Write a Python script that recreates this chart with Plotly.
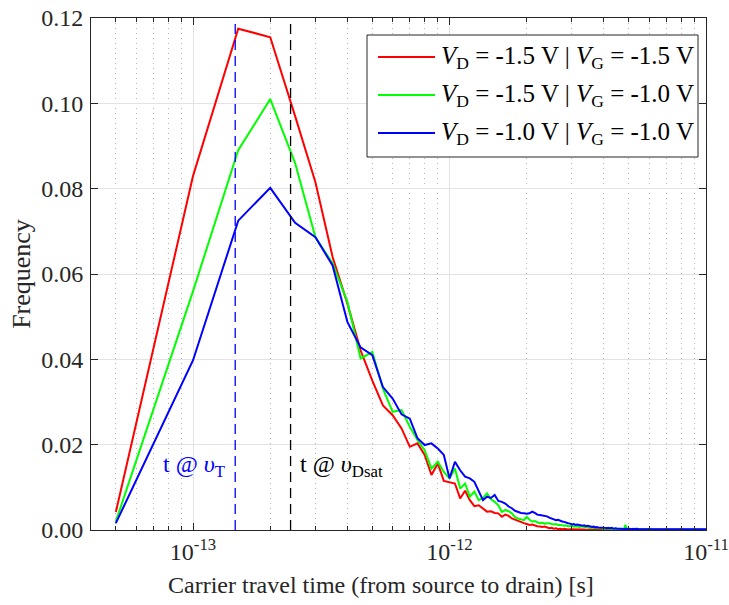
import math
import plotly.graph_objects as go

# Histogram bins: carrier travel time, 50 fs wide, from 50 fs up to 10 ps
BIN_WIDTH = 5e-14
N_BINS = 200
travel_time = [BIN_WIDTH * (i + 1) for i in range(N_BINS)]

# Frequency per bin, VD = -1.5 V | VG = -1.5 V
freq_d15_g15 = [
    0.0042, 0.0830, 0.1175, 0.1155, 0.0970, 0.0815, 0.0640, 0.0530, 0.0421, 0.0350,
    0.0292, 0.0269, 0.0238, 0.0195, 0.0203, 0.0176, 0.0129, 0.0156, 0.0115, 0.0112,
    0.0109, 0.0074, 0.0092, 0.0070, 0.0056, 0.0058, 0.0051, 0.0043, 0.0044, 0.0040,
    0.0039, 0.0031, 0.0036, 0.0033, 0.0027, 0.0024, 0.0020, 0.0019, 0.0016, 0.0014,
    0.0012, 0.0013, 0.0010, 0.0009, 0.0008, 0.0007, 0.0008, 0.0005, 0.0004, 0.0005,
    0.0003, 0.0004, 0.0002, 0.0003, 0.0002, 0.0003, 0.0002, 0.0001, 0.0002, 0.0002,
    0.0001, 0.0002, 0.0001, 0.0001, 0.0002, 0.0001, 0.0001, 0.0000, 0.0001, 0.0001,
    0.0001, 0.0000, 0.0001, 0.0001, 0.0000, 0.0001, 0.0000, 0.0001, 0.0001, 0.0000,
    0.0001, 0.0000, 0.0000, 0.0001, 0.0000, 0.0001, 0.0000, 0.0000, 0.0001, 0.0000,
    0.0000, 0.0001, 0.0000, 0.0000, 0.0000, 0.0001, 0.0000, 0.0000, 0.0001, 0.0000,
    0.0000, 0.0000, 0.0001, 0.0000, 0.0000, 0.0000, 0.0000, 0.0001, 0.0000, 0.0000,
    0.0000, 0.0000, 0.0000, 0.0001, 0.0000, 0.0000, 0.0000, 0.0000, 0.0000, 0.0001,
    0.0000, 0.0000, 0.0000, 0.0000, 0.0000, 0.0000, 0.0001, 0.0000, 0.0000, 0.0000,
    0.0000, 0.0000, 0.0000, 0.0000, 0.0000, 0.0000, 0.0000, 0.0001, 0.0000, 0.0000,
    0.0000, 0.0000, 0.0000, 0.0000, 0.0000, 0.0000, 0.0000, 0.0000, 0.0000, 0.0000,
    0.0000, 0.0000, 0.0001, 0.0000, 0.0000, 0.0000, 0.0000, 0.0000, 0.0000, 0.0000,
    0.0000, 0.0000, 0.0000, 0.0000, 0.0000, 0.0000, 0.0000, 0.0000, 0.0000, 0.0000,
    0.0000, 0.0000, 0.0000, 0.0000, 0.0000, 0.0000, 0.0000, 0.0000, 0.0000, 0.0000,
    0.0000, 0.0000, 0.0000, 0.0000, 0.0000, 0.0000, 0.0000, 0.0000, 0.0000, 0.0000,
    0.0000, 0.0000, 0.0000, 0.0000, 0.0000, 0.0000, 0.0000, 0.0000, 0.0000, 0.0000,
]

# Frequency per bin, VD = -1.5 V | VG = -1.0 V
freq_d15_g10 = [
    0.0020, 0.0560, 0.0890, 0.1010, 0.0860, 0.0686, 0.0625, 0.0534, 0.0402, 0.0417,
    0.0331, 0.0277, 0.0281, 0.0242, 0.0211, 0.0187, 0.0144, 0.0160, 0.0136, 0.0121,
    0.0144, 0.0097, 0.0109, 0.0078, 0.0090, 0.0070, 0.0075, 0.0086, 0.0072, 0.0066,
    0.0058, 0.0042, 0.0047, 0.0044, 0.0039, 0.0030, 0.0027, 0.0025, 0.0023, 0.0031,
    0.0024, 0.0020, 0.0021, 0.0018, 0.0016, 0.0017, 0.0015, 0.0016, 0.0016, 0.0014,
    0.0013, 0.0014, 0.0012, 0.0012, 0.0011, 0.0010, 0.0011, 0.0009, 0.0009, 0.0010,
    0.0008, 0.0009, 0.0008, 0.0007, 0.0008, 0.0009, 0.0007, 0.0006, 0.0007, 0.0006,
    0.0005, 0.0006, 0.0005, 0.0004, 0.0005, 0.0004, 0.0004, 0.0005, 0.0003, 0.0004,
    0.0003, 0.0004, 0.0003, 0.0003, 0.0004, 0.0002, 0.0003, 0.0003, 0.0002, 0.0003,
    0.0002, 0.0003, 0.0002, 0.0003, 0.0002, 0.0004, 0.0012, 0.0003, 0.0002, 0.0002,
    0.0002, 0.0001, 0.0002, 0.0002, 0.0001, 0.0002, 0.0003, 0.0001, 0.0002, 0.0001,
    0.0002, 0.0001, 0.0001, 0.0002, 0.0001, 0.0002, 0.0001, 0.0001, 0.0002, 0.0001,
    0.0001, 0.0002, 0.0001, 0.0001, 0.0001, 0.0002, 0.0001, 0.0001, 0.0001, 0.0002,
    0.0001, 0.0001, 0.0002, 0.0001, 0.0001, 0.0001, 0.0001, 0.0002, 0.0001, 0.0001,
    0.0001, 0.0001, 0.0001, 0.0002, 0.0001, 0.0001, 0.0001, 0.0001, 0.0001, 0.0001,
    0.0002, 0.0001, 0.0001, 0.0001, 0.0001, 0.0001, 0.0001, 0.0002, 0.0001, 0.0001,
    0.0001, 0.0001, 0.0001, 0.0001, 0.0001, 0.0002, 0.0001, 0.0001, 0.0001, 0.0001,
    0.0001, 0.0001, 0.0001, 0.0001, 0.0001, 0.0001, 0.0002, 0.0001, 0.0001, 0.0001,
    0.0001, 0.0001, 0.0001, 0.0001, 0.0001, 0.0001, 0.0001, 0.0001, 0.0001, 0.0001,
    0.0001, 0.0001, 0.0001, 0.0001, 0.0001, 0.0001, 0.0001, 0.0001, 0.0001, 0.0001,
]

# Frequency per bin, VD = -1.0 V | VG = -1.0 V
freq_d10_g10 = [
    0.0016, 0.0398, 0.0725, 0.0802, 0.0720, 0.0686, 0.0620, 0.0487, 0.0428, 0.0410,
    0.0335, 0.0308, 0.0271, 0.0261, 0.0215, 0.0199, 0.0203, 0.0191, 0.0176, 0.0121,
    0.0160, 0.0140, 0.0125, 0.0121, 0.0113, 0.0090, 0.0070, 0.0078, 0.0075, 0.0082,
    0.0068, 0.0066, 0.0062, 0.0055, 0.0051, 0.0045, 0.0042, 0.0040, 0.0039, 0.0038,
    0.0039, 0.0043, 0.0040, 0.0036, 0.0035, 0.0034, 0.0033, 0.0032, 0.0029, 0.0027,
    0.0026, 0.0023, 0.0024, 0.0021, 0.0020, 0.0019, 0.0017, 0.0016, 0.0015, 0.0013,
    0.0014, 0.0012, 0.0013, 0.0012, 0.0011, 0.0010, 0.0011, 0.0009, 0.0010, 0.0008,
    0.0008, 0.0007, 0.0008, 0.0006, 0.0007, 0.0006, 0.0006, 0.0005, 0.0006, 0.0005,
    0.0005, 0.0004, 0.0005, 0.0004, 0.0004, 0.0005, 0.0003, 0.0004, 0.0004, 0.0003,
    0.0003, 0.0004, 0.0003, 0.0003, 0.0002, 0.0003, 0.0003, 0.0002, 0.0003, 0.0002,
    0.0003, 0.0002, 0.0003, 0.0003, 0.0002, 0.0003, 0.0002, 0.0003, 0.0002, 0.0002,
    0.0003, 0.0002, 0.0002, 0.0003, 0.0002, 0.0002, 0.0003, 0.0002, 0.0002, 0.0002,
    0.0003, 0.0002, 0.0002, 0.0002, 0.0003, 0.0002, 0.0002, 0.0002, 0.0002, 0.0003,
    0.0002, 0.0002, 0.0002, 0.0002, 0.0002, 0.0003, 0.0002, 0.0002, 0.0002, 0.0002,
    0.0002, 0.0002, 0.0003, 0.0002, 0.0002, 0.0002, 0.0002, 0.0002, 0.0002, 0.0002,
    0.0002, 0.0002, 0.0002, 0.0002, 0.0003, 0.0002, 0.0002, 0.0002, 0.0002, 0.0002,
    0.0002, 0.0002, 0.0002, 0.0002, 0.0002, 0.0002, 0.0002, 0.0003, 0.0002, 0.0002,
    0.0002, 0.0002, 0.0002, 0.0002, 0.0002, 0.0002, 0.0002, 0.0002, 0.0002, 0.0002,
    0.0002, 0.0002, 0.0002, 0.0002, 0.0002, 0.0002, 0.0002, 0.0002, 0.0002, 0.0002,
    0.0002, 0.0002, 0.0002, 0.0002, 0.0002, 0.0002, 0.0002, 0.0002, 0.0002, 0.0002,
]

series_names = [
    "<i>V</i><sub>D</sub> = -1.5 V | <i>V</i><sub>G</sub> = -1.5 V",
    "<i>V</i><sub>D</sub> = -1.5 V | <i>V</i><sub>G</sub> = -1.0 V",
    "<i>V</i><sub>D</sub> = -1.0 V | <i>V</i><sub>G</sub> = -1.0 V",
]
series_values = [freq_d15_g15, freq_d15_g10, freq_d10_g10]
series_colors = ["#ff0000", "#00ff00", "#0000ff"]

# Reference travel times: threshold velocity and drain saturation velocity
t_at_vT = 1.46e-13
t_at_vDsat = 2.40e-13

x_tick_vals = [1e-13, 1e-12, 1e-11]
x_tick_text = ["10<sup>-13</sup>", "10<sup>-12</sup>", "10<sup>-11</sup>"]
x_minor_vals = [m * 10.0 ** e for e in (-14, -13, -12) for m in range(2, 10)]

AXIS_COLOR = "#262626"
FONT = "Liberation Serif, Times New Roman, serif"

# Figure geometry (pixels) used to place the boxed key in paper coordinates
W, H = 729, 605
M_L, M_R, M_T, M_B = 91, 23, 18, 75
PLOT_W = W - M_L - M_R
PLOT_H = H - M_T - M_B


def px_x(px):
    return (px - M_L) / PLOT_W


def px_y(py):
    return 1 - (py - M_T) / PLOT_H


fig = go.Figure()

for name, vals, col in zip(series_names, series_values, series_colors):
    fig.add_trace(go.Scatter(
        x=travel_time, y=vals, mode="lines", name=name, showlegend=False,
        line=dict(color=col, width=2),
    ))

for t_ref, col in ((t_at_vT, "#0000ff"), (t_at_vDsat, "#000000")):
    fig.add_trace(go.Scatter(
        x=[t_ref, t_ref], y=[0, 0.12], mode="lines", showlegend=False,
        line=dict(color=col, width=1.3, dash="10px,6px"), hoverinfo="skip",
    ))

fig.add_annotation(
    xref="paper", yref="paper", x=px_x(227), y=px_y(466), xanchor="right",
    yanchor="middle", text="t @ <i>υ</i><sub>T</sub>", showarrow=False,
    font=dict(family=FONT, size=24, color="#0000ff"),
)
fig.add_annotation(
    xref="paper", yref="paper", x=px_x(298), y=px_y(466), xanchor="left",
    yanchor="middle", text="t @ <i>υ</i><sub>Dsat</sub>", showarrow=False,
    font=dict(family=FONT, size=24, color="#000000"),
)

# x-axis caption, set a little left of the plot centre
fig.add_annotation(
    xref="paper", yref="paper", x=px_x(381), y=px_y(585), xanchor="center",
    yanchor="middle", text="Carrier travel time (from source to drain) [s]",
    showarrow=False, font=dict(family=FONT, size=24, color=AXIS_COLOR),
)

# Boxed key in the upper right corner
key_box = dict(x0=367, x1=698, y0=35, y1=157)
key_rows_y = [57, 95, 133]
fig.add_shape(
    type="rect", xref="paper", yref="paper",
    x0=px_x(key_box["x0"]), x1=px_x(key_box["x1"]),
    y0=px_y(key_box["y1"]), y1=px_y(key_box["y0"]),
    line=dict(color=AXIS_COLOR, width=1), fillcolor="white", layer="above",
)
for name, col, ry in zip(series_names, series_colors, key_rows_y):
    fig.add_shape(
        type="line", xref="paper", yref="paper",
        x0=px_x(378), x1=px_x(435), y0=px_y(ry), y1=px_y(ry),
        line=dict(color=col, width=2), layer="above",
    )
    fig.add_annotation(
        xref="paper", yref="paper", x=px_x(439), y=px_y(ry),
        xanchor="left", yanchor="middle", text=name, showarrow=False,
        font=dict(family=FONT, size=25, color="#000000"),
    )

fig.update_layout(
    width=W, height=H,
    margin=dict(l=M_L, r=M_R, t=M_T, b=M_B),
    plot_bgcolor="white", paper_bgcolor="white",
    font=dict(family=FONT, size=24, color=AXIS_COLOR),
    showlegend=False,
)

fig.update_xaxes(
    type="log", range=[math.log10(4e-14), -11],
    tickmode="array", tickvals=x_tick_vals, ticktext=x_tick_text,
    ticks="inside", ticklen=7, tickcolor=AXIS_COLOR,
    tickfont=dict(size=24),
    showline=True, linecolor=AXIS_COLOR, linewidth=1, mirror="ticks",
    showgrid=True, gridcolor="#e3e3e3", gridwidth=1,
    minor=dict(
        tickmode="array", tickvals=x_minor_vals, ticks="inside", ticklen=4,
        tickcolor=AXIS_COLOR, showgrid=True, gridcolor="#b4b4b4",
        griddash="1px,4px",
    ),
    zeroline=False, automargin=False,
)

fig.update_yaxes(
    range=[0, 0.12], tick0=0, dtick=0.02, tickformat=".2f",
    ticks="inside", ticklen=7, tickcolor=AXIS_COLOR,
    tickfont=dict(size=24), ticklabelstandoff=2,
    showline=True, linecolor=AXIS_COLOR, linewidth=1, mirror="ticks",
    showgrid=True, gridcolor="#e3e3e3", gridwidth=1, zeroline=False,
    automargin=False,
    title=dict(text="Frequency", standoff=3, font=dict(size=26)),
)

fig.write_html("out.html")
